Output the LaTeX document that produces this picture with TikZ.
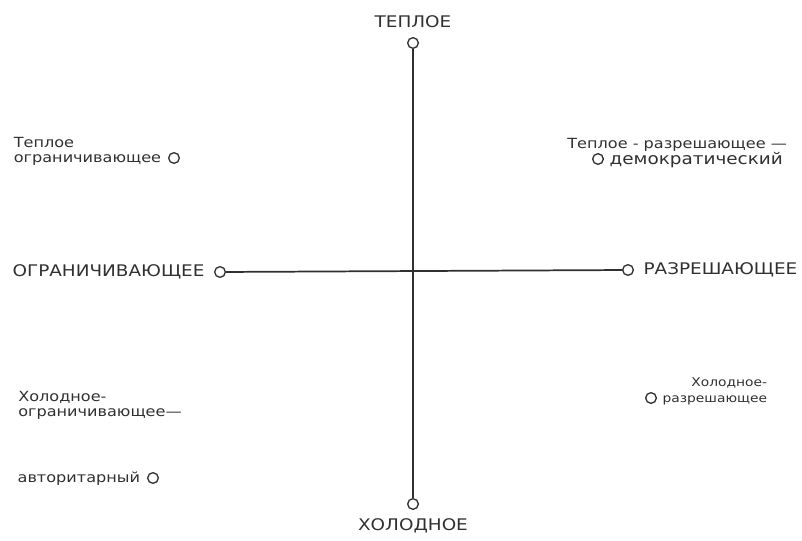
\documentclass[tikz,border=0pt]{standalone}
\usepackage{fontspec}
\setmainfont{DejaVu Sans}[FakeStretch=1.15]
\usetikzlibrary{positioning}
\definecolor{ink}{HTML}{303030}
\begin{document}
\begin{tikzpicture}[x=0.75pt, y=-0.75pt,
    dot/.style={circle, draw=ink, line width=1pt, minimum size=8pt, inner sep=0pt},
    lbl/.style={text=ink, font=\fontsize{10.5}{11}\selectfont, inner sep=0pt},
    caplbl/.style={text=ink, font=\fontsize{12}{14}\selectfont, inner sep=0pt},
    axis/.style={draw=ink, line width=1.3pt}]
    \useasboundingbox (0,0) rectangle (802,541);

    % оси
    \node[dot] (top) at (413,43) {};
    \node[dot] (bottom) at (413,504) {};
    \node[dot] (left) at (220,272) {};
    \node[dot] (right) at (628,270) {};
    \draw[axis] (top) -- (bottom);
    \draw[axis] (left) -- (right);

    \node[caplbl, above=7pt of top] (warm) {ТЕПЛОЕ};
    \node[caplbl, below=6pt of bottom] (cold) {ХОЛОДНОЕ};
    \node[caplbl, left=7pt of left] (restr) {ОГРАНИЧИВАЮЩЕЕ};
    \node[caplbl, right=7pt of right] (perm) {РАЗРЕШАЮЩЕЕ};

    % квадранты
    \node[dot] (q1) at (174,158) {};
    \node[lbl, anchor=base east, align=left] (q1t) at ([xshift=-5pt, yshift=-3.5pt]q1.west) {Теплое\\ограничивающее};

    \node[dot] (q2) at (598,159) {};
    \node[lbl, font=\fontsize{12}{14}\selectfont, anchor=base west] (q2b) at ([xshift=4pt, yshift=-4pt]q2.east) {демократический};
    \node[lbl, anchor=base east] (q2a) at ([xshift=3pt, yshift=12pt]q2b.base east) {Теплое - разрешающее —};

    \node[dot] (q3) at (153,478) {};
    \node[lbl, anchor=base east] (q3b) at ([xshift=-5pt, yshift=-3.5pt]q3.west) {авторитарный};
    \node[lbl, anchor=base west, align=left] (q3a) at (18,416) {Холодное-\\ограничивающее—};

    \node[dot] (q4) at (651,398) {};
    \node[lbl, font=\fontsize{9}{11}\selectfont, anchor=base west] (q4b) at ([xshift=4pt, yshift=-3.5pt]q4.east) {разрешающее};
    \node[lbl, font=\fontsize{9}{11}\selectfont, anchor=base east] (q4a) at ([yshift=12pt]q4b.base east) {Холодное-};
\end{tikzpicture}
\end{document}
